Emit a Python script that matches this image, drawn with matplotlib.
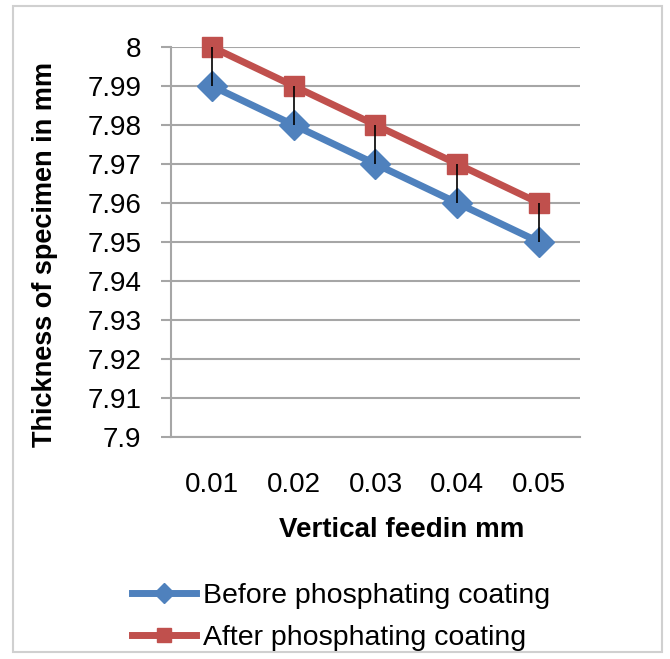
import matplotlib.pyplot as plt
from matplotlib.patches import Rectangle

plt.rcParams['font.family'] = ['Liberation Sans', 'DejaVu Sans']

feed = ['0.01', '0.02', '0.03', '0.04', '0.05']
before = [7.99, 7.98, 7.97, 7.96, 7.95]
after = [8.00, 7.99, 7.98, 7.97, 7.96]
yticks = [7.9, 7.91, 7.92, 7.93, 7.94, 7.95, 7.96, 7.97, 7.98, 7.99, 8.0]
ytick_labels = ['7.9', '7.91', '7.92', '7.93', '7.94', '7.95', '7.96', '7.97', '7.98', '7.99', '8']

blue = '#4F81BD'
red = '#C0504D'
grid = '#a6a6a6'

fig = plt.figure(figsize=(6.70, 6.59), dpi=100)
ax = fig.add_axes([0.2552, 0.3369, 0.6104, 0.5918])

x = list(range(1, len(feed) + 1))
ax.plot(x, before, color=blue, lw=5, marker='D', ms=15,
        label='Before phosphating coating', clip_on=False, zorder=3)
ax.plot(x, after, color=red, lw=5, marker='s', ms=15,
        label='After phosphating coating', clip_on=False, zorder=3)
# high-low lines between the two series
ax.vlines(x, before, after, colors='black', lw=1.2, zorder=4)

ax.set_xlim(0.5, 5.5)
ax.set_ylim(7.9, 8.0)
ax.set_xticks(x)
ax.set_xticklabels(feed)
ax.set_yticks(yticks)
ax.set_yticklabels(ytick_labels)

ax.grid(axis='y', color=grid, lw=1.5)
ax.set_axisbelow(True)
for s in ['top', 'right']:
    ax.spines[s].set_visible(False)
for s in ['left', 'bottom']:
    ax.spines[s].set_color(grid)
    ax.spines[s].set_linewidth(1.5)

ax.tick_params(axis='x', length=0, pad=25, labelsize=20)
ax.tick_params(axis='y', length=7.2, width=1.5, color=grid, pad=14, labelsize=20)

ax.set_xlabel('Vertical feedin mm', fontsize=20, fontweight='bold', va='center')
ax.xaxis.set_label_coords(0.565, -0.238)
ax.set_ylabel('Thickness of specimen in mm', fontsize=19.5, fontweight='bold', va='center')
ax.yaxis.set_label_coords(-0.308, 0.467)

fig.legend(loc='center left', bbox_to_anchor=(118 / 670, 0.064), frameon=False,
           fontsize=20.5, handlelength=2.25, handletextpad=0.25, labelspacing=0.55,
           borderpad=0, markerscale=0.7)

fig.patches.append(Rectangle((13 / 670, 1 - 652 / 659), 649 / 670, 646 / 659,
                             transform=fig.transFigure, fill=False,
                             edgecolor='#d0d0d0', lw=1.5))

plt.savefig('out.png', dpi=100)
